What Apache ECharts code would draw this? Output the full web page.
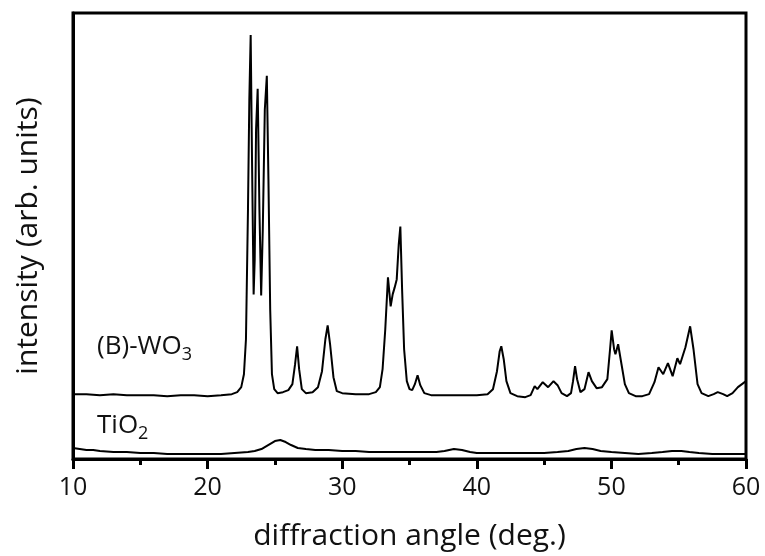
<!DOCTYPE html>
<html>
<head>
<meta charset="utf-8">
<script src="https://cdn.jsdelivr.net/npm/echarts@6/dist/echarts.min.js"></script>
<style>
  html, body { margin: 0; padding: 0; background: #fff; }
  #chart { width: 765px; height: 556px; }
</style>
</head>
<body>
<div id="chart"></div>
<script>
// XRD patterns, [2θ (deg), intensity (arb. units)]
const wo3Pattern = [
  [10,65],[11,65],[12,64],[13,65],[14,64],[15,64],[16,64],[17,63],[18,64],[19,64],[20,63],[21,64],
  [21.8,65],[22.2,67],[22.5,72],[22.7,85],[22.85,120],[23.0,250],[23.1,360],[23.2,425],[23.3,300],
  [23.42,165],[23.5,200],[23.6,330],[23.72,371],[23.85,250],[23.98,164],[24.1,230],[24.25,350],
  [24.4,384],[24.52,280],[24.65,150],[24.78,85],[24.95,70],[25.2,66],[25.6,67],[26.0,69],[26.3,75],
  [26.5,95],[26.65,113],[26.8,90],[27.0,70],[27.3,66],[27.8,67],[28.2,72],[28.5,88],[28.75,120],
  [28.92,134],[29.1,115],[29.35,82],[29.6,68],[30,66],[31,65],[32,65],[32.5,67],[32.8,72],[33.0,90],
  [33.2,130],[33.4,182],[33.6,153],[33.75,165],[33.9,172],[34.05,180],[34.2,215],[34.32,233],
  [34.45,170],[34.6,110],[34.8,78],[35.0,70],[35.2,69],[35.4,75],[35.6,84],[35.8,74],[36.1,66],
  [36.6,64],[37,64],[38,64],[39,64],[40,64],[40.8,65],[41.2,70],[41.5,88],[41.7,108],[41.82,113],
  [42.0,100],[42.2,78],[42.5,66],[43,63],[43.6,62],[44.0,64],[44.3,73],[44.5,70],[44.9,77],[45.3,72],
  [45.7,78],[46.0,74],[46.3,66],[46.7,63],[47.0,66],[47.15,78],[47.3,93],[47.45,80],[47.7,67],
  [48.0,70],[48.3,87],[48.55,78],[48.9,71],[49.3,72],[49.7,80],[49.9,110],[50.02,129],[50.2,110],
  [50.3,105],[50.5,115],[50.75,95],[51.0,75],[51.3,66],[51.8,63],[52.3,63],[52.8,65],[53.2,77],
  [53.5,92],[53.85,85],[54.2,96],[54.55,83],[54.9,101],[55.1,95],[55.5,112],[55.85,133],[56.1,110],
  [56.4,75],[56.7,66],[57.2,63],[57.6,65],[57.9,67],[58.3,65],[58.6,63],[59.0,66],[59.4,72],
  [59.7,75],[60,78]
];

const tio2Pattern = [
  [10,11],[10.5,10],[11,9],[11.5,9],[12,8],[13,7],[14,7],[15,6],[16,6],[17,5],[18,5],[19,5],[20,5],
  [21,5],[22,6],[23,7],[23.5,8],[24,10],[24.5,14],[25,18],[25.4,19],[25.8,17],[26.2,14],[26.7,11],
  [27.3,10],[28,9],[29,9],[30,8],[31,8],[32,7],[33,7],[34,7],[35,7],[36,7],[37,7],[37.6,8],[38.3,10],
  [38.9,9],[39.5,7],[40,6],[41,6],[42,6],[43,6],[44,6],[45,6],[46,7],[46.8,8],[47.4,10],[48,11],
  [48.6,10],[49.2,8],[50,7],[51,6],[52,5],[53,6],[53.8,7],[54.5,8],[55.2,8],[55.8,7],[56.5,6],
  [57.5,5],[58.5,5],[59.3,5],[60,5]
];

const xTicks = [10, 20, 30, 40, 50, 60];

const FONT = '"Open Sans", "Noto Sans", sans-serif';
const chart = echarts.init(document.getElementById('chart'));

// sample label with a subscript
function formulaLabel(main, sub, top) {
  return {
    type: 'text', left: 97, top: top,
    style: {
      text: '{m|' + main + '}{s|' + sub + '}',
      rich: {
        m: { fontFamily: FONT, fontSize: 26, fill: '#111', lineHeight: 34 },
        s: { fontFamily: FONT, fontSize: 18, fill: '#111', verticalAlign: 'bottom', padding: [11, 0, 0, 0], lineHeight: 34 }
      }
    }
  };
}

chart.setOption({
  backgroundColor: '#fff',
  animation: false,
  grid: {
    left: 73, right: 19, top: 13, bottom: 96,
    show: true, borderColor: '#000', borderWidth: 3, backgroundColor: 'transparent'
  },
  xAxis: {
    type: 'value',
    min: xTicks[0], max: xTicks[xTicks.length - 1], interval: 10,
    name: 'diffraction angle (deg.)',
    nameLocation: 'middle', nameGap: 62,
    nameTextStyle: { fontFamily: FONT, fontSize: 30, color: '#111' },
    axisLine: { show: true, lineStyle: { color: '#000', width: 3 } },
    axisTick: { show: true, inside: false, length: 10, lineStyle: { color: '#000', width: 3 } },
    minorTick: { show: true, splitNumber: 2, length: 6, lineStyle: { color: '#000', width: 3 } },
    splitLine: { show: false },
    axisLabel: { fontFamily: FONT, fontSize: 25, color: '#111', margin: 16 }
  },
  yAxis: {
    type: 'value',
    min: 0, max: 447,
    name: 'intensity (arb. units)',
    nameLocation: 'middle', nameGap: 30,
    nameTextStyle: { fontFamily: FONT, fontSize: 30, color: '#111' },
    axisLine: { show: true, lineStyle: { color: '#000', width: 3 } },
    axisTick: { show: false },
    axisLabel: { show: false },
    splitLine: { show: false }
  },
  graphic: [
    formulaLabel('(B)-WO', '3', 334),
    formulaLabel('TiO', '2', 413)
  ],
  series: [
    {
      name: '(B)-WO3', type: 'line', data: wo3Pattern,
      showSymbol: false, smooth: false,
      lineStyle: { color: '#000', width: 2 }
    },
    {
      name: 'TiO2', type: 'line', data: tio2Pattern,
      showSymbol: false, smooth: false,
      lineStyle: { color: '#000', width: 2 }
    }
  ]
});
</script>
</body>
</html>
